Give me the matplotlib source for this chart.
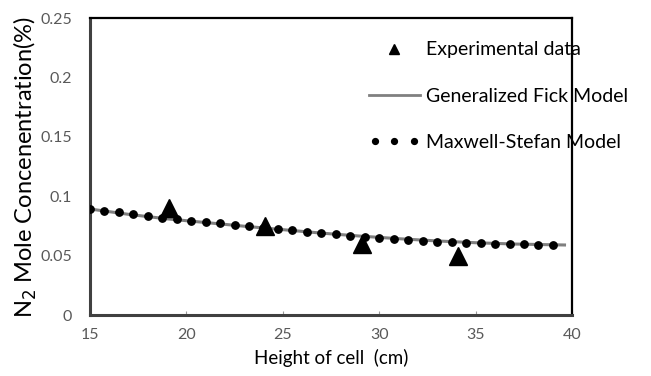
import matplotlib.pyplot as plt
from matplotlib.lines import Line2D
from matplotlib.legend_handler import HandlerLine2D

# experimental points
exp_x = [19.1, 24.1, 29.1, 34.1]
exp_y = [0.090, 0.075, 0.060, 0.050]

# generalized Fick model (line)
fick_x = [15, 17, 19, 21, 23, 25, 27, 29, 31, 33, 35, 37, 39.6]
fick_y = [0.0893, 0.0848, 0.0810, 0.0779, 0.0748, 0.0719, 0.0690, 0.0665, 0.0643, 0.0624, 0.0609, 0.0598, 0.0590]

# Maxwell-Stefan model (dots)
ms_x = [15 + 0.75 * i for i in range(33)]
ms_y = [0.0893, 0.0878, 0.0864, 0.0850, 0.0836, 0.0821, 0.0808, 0.0795, 0.0783, 0.0771,
        0.0759, 0.0748, 0.0737, 0.0724, 0.0712, 0.0700, 0.0689, 0.0679, 0.0669, 0.0659,
        0.0649, 0.0640, 0.0632, 0.0625, 0.0618, 0.0612, 0.0607, 0.0603, 0.0600, 0.0597,
        0.0595, 0.0593, 0.0592]

plt.rcParams['font.family'] = ['Lato', 'DejaVu Sans']

fig = plt.figure(figsize=(6.51, 3.76), dpi=100)
ax = fig.add_axes([0.138, 0.162, 0.741, 0.79])

ax.plot(fick_x, fick_y, color='#808080', lw=2.2, zorder=2)
ax.plot(ms_x, ms_y, 'o', color='black', ms=5.3, ls='none', zorder=3)
ax.plot(exp_x, exp_y, '^', color='black', ms=13, ls='none', zorder=4)

ax.set_xlim(15, 40)
ax.set_ylim(0, 0.25)
ax.set_xticks([15, 20, 25, 30, 35, 40])
ax.set_xticklabels(['15', '20', '25', '30', '35', '40'])
ax.set_yticks([0, 0.05, 0.1, 0.15, 0.2, 0.25])
ax.set_yticklabels(['0', '0.05', '0.1', '0.15', '0.2', '0.25'])
ax.tick_params(axis='x', direction='in', length=3, color='#999999', labelsize=11.5, labelcolor='#595959', pad=9)
ax.tick_params(axis='y', length=0, labelsize=11.5, labelcolor='#595959', pad=13)

for side in ['left', 'bottom']:
    ax.spines[side].set_linewidth(2.2)
    ax.spines[side].set_color('#404040')
for side in ['top', 'right']:
    ax.spines[side].set_linewidth(1.6)
    ax.spines[side].set_color('black')

ax.set_xlabel('Height of cell  (cm)', fontsize=13.5, labelpad=5)
ax.set_ylabel('N$_2$ Mole Concenentration(%)', fontsize=17, labelpad=1)

# legend proxies
h_exp = Line2D([], [], marker='^', color='black', ms=7, ls='none')
h_fick = Line2D([], [], color='#808080', lw=2)
h_ms = Line2D([], [], marker='o', color='black', ms=4.2, ls='none')
ax.legend([h_exp, h_fick, h_ms],
          ['Experimental data', 'Generalized Fick Model', 'Maxwell-Stefan Model'],
          loc='upper left', bbox_to_anchor=(0.5425, 0.98), frameon=False,
          fontsize=14, labelspacing=1.5, handlelength=2.6, handletextpad=0.35,
          handler_map={h_ms: HandlerLine2D(numpoints=3)})

fig.savefig('out.png', dpi=100)
